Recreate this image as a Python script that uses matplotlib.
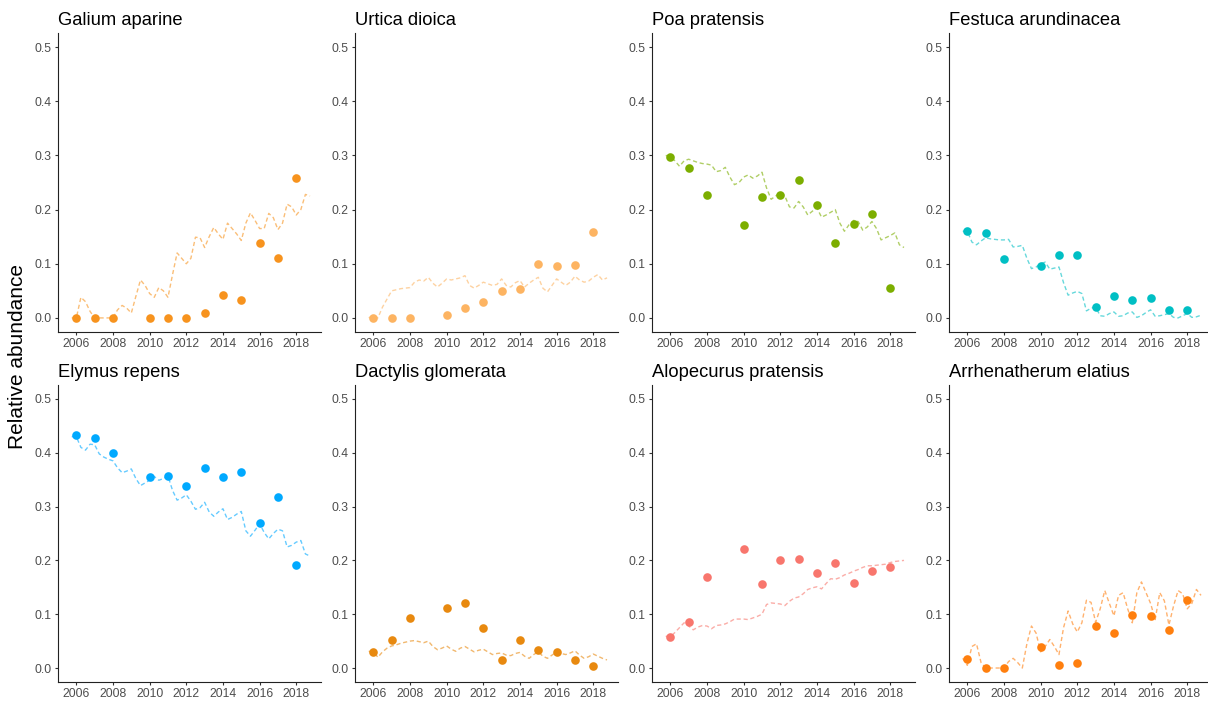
import numpy as np
import matplotlib
matplotlib.use("Agg")
import matplotlib.pyplot as plt

plt.rcParams['font.family'] = ['Liberation Sans', 'DejaVu Sans']

# survey years (no survey in 2009)
years = [2006, 2007, 2008, 2010, 2011, 2012, 2013, 2014, 2015, 2016, 2017, 2018]
# model output, quarterly from 2005.75 to 2018.75
t_fit = np.arange(2005.75, 2018.76, 0.25)

species = ["Galium aparine", "Urtica dioica", "Poa pratensis", "Festuca arundinacea",
           "Elymus repens", "Dactylis glomerata", "Alopecurus pratensis", "Arrhenatherum elatius"]
colors = ["#F7931E", "#FDB462", "#7CAE00", "#00BFC4",
          "#00A9FF", "#E8890F", "#F8766D", "#FF7F0E"]

obs_galium = [0.0, 0.0, 0.0, 0.0, 0.0, 0.0, 0.010, 0.042, 0.034, 0.138, 0.111, 0.259]
obs_urtica = [0.0, 0.0, 0.0, 0.005, 0.018, 0.030, 0.049, 0.054, 0.099, 0.096, 0.098, 0.158]
obs_poa = [0.298, 0.276, 0.227, 0.172, 0.224, 0.227, 0.254, 0.209, 0.138, 0.173, 0.191, 0.056]
obs_festuca = [0.160, 0.157, 0.109, 0.095, 0.117, 0.117, 0.020, 0.040, 0.034, 0.036, 0.014, 0.014]
obs_elymus = [0.434, 0.427, 0.400, 0.355, 0.357, 0.338, 0.371, 0.355, 0.365, 0.270, 0.318, 0.191]
obs_dactylis = [0.030, 0.052, 0.093, 0.111, 0.120, 0.075, 0.014, 0.052, 0.034, 0.030, 0.014, 0.004]
obs_alopecurus = [0.058, 0.085, 0.169, 0.221, 0.156, 0.201, 0.202, 0.177, 0.196, 0.158, 0.181, 0.187]
obs_arrhenatherum = [0.017, 0.0, 0.0, 0.039, 0.006, 0.010, 0.078, 0.066, 0.098, 0.097, 0.070, 0.127]

fit_galium = [0.0, 0.0, 0.038, 0.03, 0.012,
              0.0, 0.0, 0.0, 0.0,
              0.0, 0.015, 0.023, 0.018,
              0.009, 0.04, 0.07, 0.06,
              0.045, 0.038, 0.056, 0.05,
              0.038, 0.08, 0.12, 0.11,
              0.1, 0.11, 0.149, 0.148,
              0.13, 0.15, 0.167, 0.155,
              0.145, 0.175, 0.165, 0.155,
              0.143, 0.175, 0.194, 0.18,
              0.165, 0.165, 0.193, 0.185,
              0.163, 0.175, 0.21, 0.205,
              0.19, 0.2, 0.228, 0.225]
fit_urtica = [0.0, 0.005, 0.0, 0.02, 0.035,
              0.05, 0.052, 0.054, 0.055,
              0.056, 0.066, 0.07, 0.068,
              0.075, 0.064, 0.057, 0.064,
              0.072, 0.07, 0.072, 0.074,
              0.078, 0.06, 0.055, 0.06,
              0.066, 0.063, 0.06, 0.062,
              0.072, 0.06, 0.057, 0.065,
              0.069, 0.057, 0.064, 0.07,
              0.075, 0.055, 0.048, 0.06,
              0.072, 0.066, 0.06, 0.066,
              0.077, 0.07, 0.066, 0.068,
              0.075, 0.08, 0.07, 0.074]
fit_poa = [0.30, 0.298, 0.29, 0.28, 0.29,
           0.293, 0.29, 0.287, 0.285,
           0.284, 0.282, 0.27, 0.272,
           0.278, 0.26, 0.246, 0.25,
           0.26, 0.264, 0.258, 0.262,
           0.269, 0.24, 0.219, 0.225,
           0.232, 0.225, 0.205, 0.203,
           0.215, 0.205, 0.19, 0.197,
           0.203, 0.186, 0.19, 0.195,
           0.2, 0.175, 0.16, 0.172,
           0.18, 0.178, 0.162, 0.168,
           0.178, 0.165, 0.144, 0.148,
           0.152, 0.157, 0.135, 0.13]
fit_festuca = [0.16, 0.16, 0.14, 0.135, 0.142,
               0.148, 0.146, 0.145, 0.144,
               0.144, 0.145, 0.131, 0.132,
               0.134, 0.11, 0.091, 0.094,
               0.1, 0.103, 0.09, 0.092,
               0.094, 0.065, 0.042, 0.046,
               0.049, 0.045, 0.013, 0.018,
               0.02, 0.004, 0.003, 0.008,
               0.011, 0.003, 0.004, 0.009,
               0.011, 0.001, 0.004, 0.01,
               0.015, 0.003, 0.004, 0.006,
               0.008, 0.001, 0.0, 0.004,
               0.008, 0.001, 0.002, 0.005]
fit_elymus = [0.43, 0.43, 0.41, 0.405, 0.416,
              0.415, 0.398, 0.392, 0.388,
              0.385, 0.372, 0.363, 0.366,
              0.37, 0.352, 0.339, 0.344,
              0.349, 0.356, 0.349, 0.352,
              0.357, 0.33, 0.312, 0.316,
              0.322, 0.31, 0.295, 0.298,
              0.308, 0.29, 0.282, 0.29,
              0.296, 0.276, 0.28, 0.286,
              0.291, 0.255, 0.245, 0.256,
              0.268, 0.252, 0.24, 0.25,
              0.258, 0.255, 0.225, 0.228,
              0.234, 0.237, 0.212, 0.208]
fit_dactylis = [0.031, 0.03, 0.02, 0.03, 0.037,
                0.041, 0.043, 0.046, 0.048,
                0.05, 0.051, 0.049, 0.047,
                0.05, 0.04, 0.034, 0.037,
                0.041, 0.035, 0.031, 0.037,
                0.04, 0.035, 0.03, 0.033,
                0.035, 0.03, 0.025, 0.027,
                0.028, 0.024, 0.023, 0.027,
                0.029, 0.022, 0.018, 0.025,
                0.03, 0.022, 0.018, 0.024,
                0.03, 0.027, 0.025, 0.028,
                0.032, 0.024, 0.018, 0.021,
                0.026, 0.022, 0.018, 0.015]
fit_alopecurus = [0.059, 0.058, 0.066, 0.075, 0.084,
                  0.078, 0.071, 0.076, 0.079,
                  0.078, 0.073, 0.079, 0.08,
                  0.082, 0.086, 0.091, 0.091,
                  0.091, 0.09, 0.093, 0.096,
                  0.1, 0.118, 0.121, 0.12,
                  0.119, 0.116, 0.124, 0.13,
                  0.132, 0.138, 0.146, 0.149,
                  0.151, 0.147, 0.157, 0.166,
                  0.165, 0.168, 0.173, 0.176,
                  0.18, 0.183, 0.187, 0.19,
                  0.19, 0.191, 0.192, 0.193,
                  0.196, 0.198, 0.199, 0.2]
fit_arrhenatherum = [0.018, 0.005, 0.04, 0.045, 0.01,
                     0.0, 0.0, 0.0, 0.0,
                     0.0, 0.012, 0.018, 0.01,
                     0.0, 0.045, 0.078, 0.065,
                     0.03, 0.04, 0.053, 0.04,
                     0.025, 0.075, 0.106, 0.082,
                     0.067, 0.084, 0.126, 0.122,
                     0.085, 0.11, 0.144, 0.12,
                     0.097, 0.135, 0.14, 0.11,
                     0.084, 0.14, 0.16, 0.14,
                     0.12, 0.09, 0.14, 0.125,
                     0.08, 0.115, 0.144, 0.138,
                     0.11, 0.12, 0.146, 0.135]

observed = [obs_galium, obs_urtica, obs_poa, obs_festuca,
            obs_elymus, obs_dactylis, obs_alopecurus, obs_arrhenatherum]
fitted = [fit_galium, fit_urtica, fit_poa, fit_festuca,
          fit_elymus, fit_dactylis, fit_alopecurus, fit_arrhenatherum]

W, H = 1208, 705
fig = plt.figure(figsize=(W / 100, H / 100), dpi=100)

col_left = [58, 355, 652, 949]
row_bottom = [332, 682]
row_height = [299, 297]
panel_w = 263

for i, name in enumerate(species):
    r, c = divmod(i, 4)
    ax = fig.add_axes([col_left[c] / W, 1 - row_bottom[r] / H,
                       panel_w / W, row_height[r] / H])
    col = colors[i]
    ax.plot(t_fit, fitted[i], color=col, alpha=0.6, lw=1.0,
            linestyle=(0, (3, 2)))
    ax.plot(years, observed[i], 'o', color=col, ms=6.2, mec='none')

    ax.set_xlim(2005.0, 2019.35)
    ax.set_ylim(-0.026, 0.526)
    ax.set_xticks(range(2006, 2019, 2))
    ax.set_yticks(np.arange(0, 0.51, 0.1))
    ax.yaxis.set_major_formatter(plt.FormatStrFormatter('%.1f'))
    for s in ['top', 'right']:
        ax.spines[s].set_visible(False)
    for s in ['left', 'bottom']:
        ax.spines[s].set_color('#222222')
        ax.spines[s].set_linewidth(0.8)
    ax.tick_params(length=2.5, width=0.8, color='#333333',
                   labelcolor='#4D4D4D', labelsize=8.7, pad=2)
    ax.set_title(name, loc='left', fontsize=13.2, pad=6, color='black')

fig.text(18 / W, 1 - 357 / H, "Relative abundance", rotation=90,
         ha='center', va='center', fontsize=15)

fig.savefig("out.png", dpi=100, facecolor='white')
